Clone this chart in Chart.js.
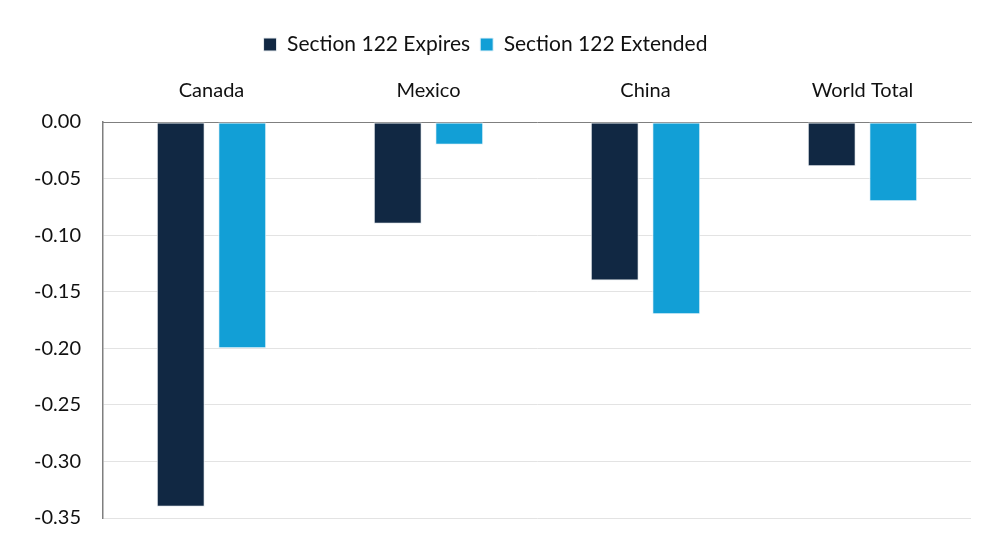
<!DOCTYPE html>
<html>
<head>
<meta charset="utf-8">
<script src="https://cdn.jsdelivr.net/npm/chart.js@4"></script>
<style>
  html, body { margin: 0; padding: 0; background: #fff; }
  #wrap { width: 992px; height: 558px; }
</style>
</head>
<body>
<div id="wrap"><canvas id="chart"></canvas></div>
<script>
// valores
const categories = ['Canada', 'Mexico', 'China', 'World Total'];
const expires = [-0.34, -0.09, -0.14, -0.039];
const extended = [-0.20, -0.02, -0.17, -0.07];
const yTicks = [0, -0.05, -0.10, -0.15, -0.20, -0.25, -0.30, -0.35];

const font = "Lato, 'Open Sans', sans-serif";

const ctx = document.getElementById('chart').getContext('2d');
new Chart(ctx, {
    type: 'bar',
    data: {
        labels: categories,
        datasets: [{
            label: 'Section 122 Expires',
            data: expires,
            backgroundColor: '#112843',
            borderColor: '#e8ecf0',
            borderWidth: 1,
            borderSkipped: false
        }, {
            label: 'Section 122 Extended',
            data: extended,
            backgroundColor: '#129fd6',
            borderColor: '#e8f4fa',
            borderWidth: 1,
            borderSkipped: false
        }]
    },
    options: {
        responsive: true,
        maintainAspectRatio: false,
        animation: false,
        datasets: {
            bar: { categoryPercentage: 0.567, barPercentage: 0.78 }
        },
        layout: { padding: { left: 0, right: 21, top: 24, bottom: 40 } },
        plugins: {
            legend: {
                position: 'top',
                labels: {
                    font: { family: font, size: 21 },
                    color: '#111',
                    boxWidth: 13,
                    boxHeight: 13,
                    padding: 10
                }
            },
            tooltip: { enabled: false }
        },
        scales: {
            x: {
                position: 'top',
                grid: { display: false, drawTicks: false },
                border: { display: true, color: '#7f7f7f', width: 1 },
                ticks: {
                    font: { family: font, size: 20 },
                    color: '#111',
                    padding: 19
                },
                afterFit: function (scale) { scale.height = 57; }
            },
            y: {
                min: -0.35,
                max: 0,
                grid: { color: '#e3e3e3', drawTicks: false },
                border: { display: true, color: '#7f7f7f', width: 1.5 },
                afterBuildTicks: function (scale) {
                    scale.ticks = yTicks.map(v => ({ value: v }));
                },
                ticks: {
                    font: { family: font, size: 20 },
                    color: '#111',
                    padding: 22,
                    callback: v => v.toFixed(2)
                },
                afterFit: function (scale) { scale.width = 103; }
            }
        }
    }
});
</script>
</body>
</html>
